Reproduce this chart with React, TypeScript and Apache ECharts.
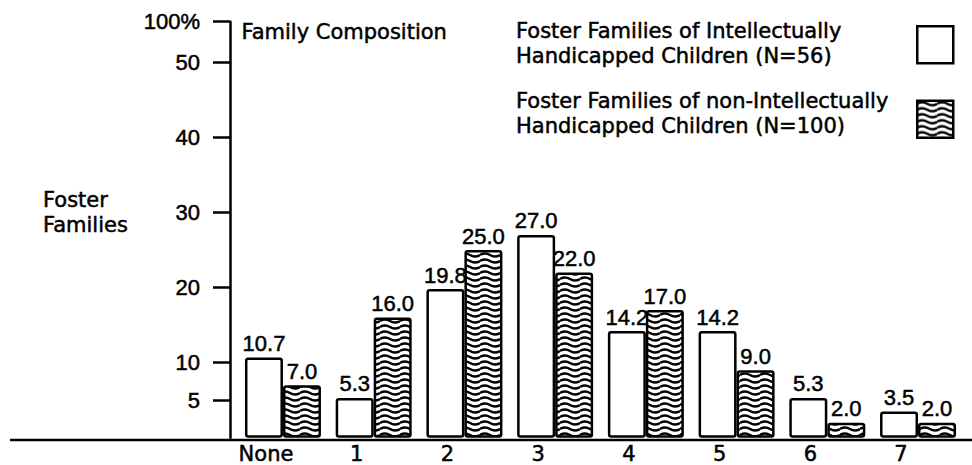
import React, { useEffect, useRef } from 'react';
import * as echarts from 'echarts';

// ---- data ----
const categories = ['None', '1', '2', '3', '4', '5', '6', '7'];
const intellectuallyHandicapped = [10.7, 5.3, 19.8, 27.0, 14.2, 14.2, 5.3, 3.5];
const nonIntellectuallyHandicapped = [7.0, 16.0, 25.0, 22.0, 17.0, 9.0, 2.0, 2.0];
const yTickValues = [5, 10, 20, 30, 40, 50];
const yTopValue = 55.4;
const yTopLabel = '100%';
const seriesNames = [
  'Foster Families of Intellectually\nHandicapped Children (N=56)',
  'Foster Families of non-Intellectually\nHandicapped Children (N=100)',
];
const yAxisTitle = 'Foster\nFamilies';
const chartTitle = 'Family Composition';

const WORD_FONT = '"DejaVu Sans", "Liberation Sans", sans-serif';
const NUM_FONT = '"Liberation Sans", Arial, sans-serif';
const INK = { textBorderColor: '#000', textBorderWidth: 0.5 };

const waveSvg =
  '<svg xmlns="http://www.w3.org/2000/svg" width="20" height="6">' +
  '<rect width="20" height="6" fill="#ffffff"/>' +
  '<path d="M0 3 Q5 0 10 3 T20 3" fill="none" stroke="#000000" stroke-width="2.4"/>' +
  '</svg>';
const wavePattern: any = {
  image: 'data:image/svg+xml;charset=utf-8,' + encodeURIComponent(waveSvg),
  repeat: 'repeat',
  imageWidth: 20,
  imageHeight: 6,
};

export default function App() {
  const ref = useRef<HTMLDivElement>(null);

  useEffect(() => {
    if (!ref.current) return;
    const chart = echarts.init(ref.current, null, { renderer: 'svg' });
    const tickVals = [...yTickValues, yTopValue];
    const valueLabel = {
      show: true,
      position: 'top',
      distance: 3,
      color: '#000',
      fontFamily: NUM_FONT,
      fontSize: 22,
      ...INK,
      formatter: (p: any) => Number(p.value).toFixed(1),
    };
    const wordStyle = { fill: '#000', fontFamily: WORD_FONT, fontSize: 21, verticalAlign: 'middle', stroke: '#000', lineWidth: 0.5 };
    const option: any = {
      animation: false,
      backgroundColor: '#ffffff',
      grid: { left: 237.6, right: 8.6, top: 21.7, bottom: 25, containLabel: false },
      legend: {
        show: true,
        orient: 'vertical',
        left: 916,
        top: 25,
        padding: 0,
        align: 'left',
        icon: 'rect',
        itemWidth: 36,
        itemHeight: 37,
        itemGap: 35,
        selectedMode: false,
        formatter: () => '',
        itemStyle: { borderColor: '#000', borderWidth: 2.5 },
        data: seriesNames,
      },
      xAxis: {
        type: 'category',
        data: categories,
        axisLine: { show: false },
        axisTick: { show: false },
        axisLabel: {
          interval: 0,
          color: '#000',
          fontFamily: WORD_FONT,
          fontSize: 21,
          margin: 6,
          padding: [0, 34, 0, 0],
          ...INK,
        },
        splitLine: { show: false },
      },
      yAxis: {
        type: 'value',
        min: 0,
        max: yTopValue,
        offset: 7.6,
        axisLine: { show: true, lineStyle: { color: '#000', width: 2.5 } },
        axisTick: {
          show: true,
          length: 17,
          customValues: tickVals,
          lineStyle: { color: '#000', width: 2.5 },
        },
        axisLabel: {
          customValues: tickVals,
          formatter: (v: number) => (v === yTopValue ? yTopLabel : String(v)),
          margin: 30,
          color: '#000',
          fontFamily: NUM_FONT,
          fontSize: 22,
          ...INK,
        },
        splitLine: { show: false },
      },
      series: [
        {
          name: seriesNames[0],
          type: 'bar',
          data: intellectuallyHandicapped,
          barWidth: 38,
          barGap: '0%',
          itemStyle: { color: '#ffffff', borderColor: '#000', borderWidth: 2.5, borderRadius: 2 },
          label: valueLabel,
        },
        {
          name: seriesNames[1],
          type: 'bar',
          data: nonIntellectuallyHandicapped,
          barWidth: 38,
          barGap: '0%',
          itemStyle: { color: wavePattern, borderColor: '#000', borderWidth: 2.5, borderRadius: 2 },
          label: valueLabel,
        },
      ],
      graphic: [
        {
          type: 'line',
          z: 1,
          shape: { x1: 10, y1: 440, x2: 972, y2: 440 },
          style: { stroke: '#000', lineWidth: 2.5 },
        },
        {
          type: 'text',
          x: 241.5,
          y: 31.6,
          style: { ...wordStyle, text: chartTitle },
        },
        {
          type: 'text',
          x: 516,
          y: 43.8,
          style: { ...wordStyle, text: seriesNames[0], lineHeight: 25 },
        },
        {
          type: 'text',
          x: 516,
          y: 113.5,
          style: { ...wordStyle, text: seriesNames[1], lineHeight: 24.5 },
        },
        {
          type: 'text',
          x: 43,
          y: 212.4,
          style: { ...wordStyle, text: yAxisTitle, lineHeight: 25.5 },
        },
      ],
    };
    chart.setOption(option);
    return () => {
      chart.dispose();
    };
  }, []);

  return (
    <div
      ref={ref}
      style={{ position: 'fixed', left: 0, top: 0, width: 972, height: 465, background: '#fff' }}
    />
  );
}
